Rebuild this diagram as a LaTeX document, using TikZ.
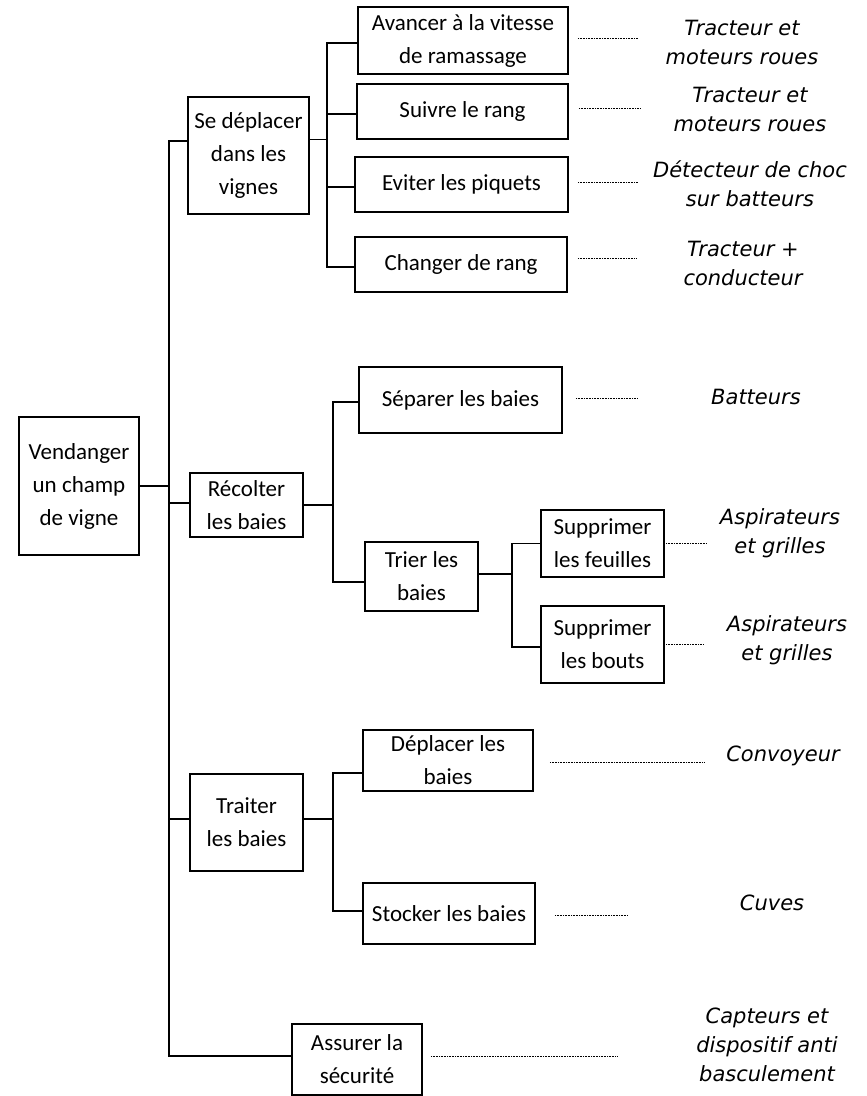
\documentclass[tikz,border=0pt]{standalone}
\usepackage{fontspec}
\setmainfont{Carlito}
\newfontfamily\etiqfont{DejaVu Sans}
\usepackage{tikz}

\begin{document}
\begin{tikzpicture}[x=1pt,y=-1pt,
        boite/.style={draw, line width=1.9pt, align=center, inner sep=2pt,
            font=\fontsize{23}{33}\selectfont},
        etiq/.style={align=center, inner sep=0pt,
            font=\etiqfont\itshape\fontsize{21}{29}\selectfont},
        lien/.style={line width=1.9pt},
        pointille/.style={line width=0.9pt, dash pattern=on 1pt off 0.6pt}]

        \useasboundingbox (0,0) rectangle (867,1096);

        % Fonction principale
        \node[boite, minimum width=120, minimum height=138] (root) at (79,486)
            {Vendanger\\un champ\\de vigne};

        % Se deplacer dans les vignes
        \node[boite, minimum width=121, minimum height=117] (sd) at (248.5,155.5)
            {Se déplacer\\dans les\\vignes};
        \node[boite, minimum width=210, minimum height=67] (av) at (463,40.5)
            {Avancer à la vitesse\\de ramassage};
        \node[boite, minimum width=211, minimum height=55] (su) at (462.5,111.5)
            {Suivre le rang};
        \node[boite, minimum width=213, minimum height=55] (ev) at (461.5,184.5)
            {Eviter les piquets};
        \node[boite, minimum width=212, minimum height=55] (ch) at (461,264.5)
            {Changer de rang};

        % Recolter les baies
        \node[boite, minimum width=113, minimum height=64] (rec) at (246.5,505)
            {Récolter\\les baies};
        \node[boite, minimum width=203, minimum height=66] (sep) at (460.5,400)
            {Séparer les baies};
        \node[boite, minimum width=113, minimum height=69] (tri) at (421.5,576.5)
            {Trier les\\baies};
        \node[boite, minimum width=123, minimum height=67] (sf) at (602.5,543.5)
            {Supprimer\\les feuilles};
        \node[boite, minimum width=123, minimum height=77] (sb) at (602.5,644.5)
            {Supprimer\\les bouts};

        % Traiter les baies
        \node[boite, minimum width=113, minimum height=97] (tra) at (246.5,822.5)
            {Traiter\\les baies};
        \node[boite, minimum width=170, minimum height=61] (dep) at (448,760.5)
            {Déplacer les\\baies};
        \node[boite, minimum width=172, minimum height=61] (sto) at (449,913.5)
            {Stocker les baies};

        % Securite
        \node[boite, minimum width=130, minimum height=71] (ass) at (357,1059.5)
            {Assurer la\\sécurité};

        % Solutions techniques
        \node[etiq] (l-av) at (742,42) {Tracteur et\\moteurs roues};
        \node[etiq] (l-su) at (750,109) {Tracteur et\\moteurs roues};
        \node[etiq] (l-ev) at (750,184) {Détecteur de choc\\sur batteurs};
        \node[etiq] (l-ch) at (743,263) {Tracteur +\\conducteur};
        \node[etiq] (l-sep) at (756,397) {Batteurs};
        \node[etiq] (l-sf) at (780,533) {Aspirateurs\\et grilles};
        \node[etiq] (l-sb) at (787,640) {Aspirateurs\\et grilles};
        \node[etiq] (l-dep) at (783,756) {Convoyeur};
        \node[etiq] (l-sto) at (772,903) {Cuves};
        \node[etiq] (l-ass) at (767,1045) {Capteurs et\\dispositif anti\\basculement};

        % bus verticaux
        \coordinate (b0) at (169,0);
        \coordinate (b1) at (333,0);
        \coordinate (b2) at (512,0);
        \coordinate (b3) at (327,0);

        % liens niveau 1
        \draw[lien] (root.east) -- (root.east -| b0);
        \draw[lien] ([yshift=14.5]sd.west) -- ([yshift=14.5]sd.west -| b0)
            |- ([yshift=3.5]ass.west);
        \draw[lien] ([yshift=2]rec.west) -- ([yshift=2]rec.west -| b0);
        \draw[lien] ([yshift=3.5]tra.west) -- ([yshift=3.5]tra.west -| b0);

        % liens se deplacer
        \draw[lien] ([yshift=16]sd.east) -- ([yshift=16]sd.east -| b3);
        \draw[lien] ([yshift=-2.5]av.west) -- ([yshift=-2.5]av.west -| b3)
            |- ([yshift=-2.5]ch.west);
        \draw[lien] ([yshift=-2.5]su.west) -- ([yshift=-2.5]su.west -| b3);
        \draw[lien] ([yshift=-2.5]ev.west) -- ([yshift=-2.5]ev.west -| b3);

        % liens recolter
        \draw[lien] (rec.east) -- (rec.east -| b1);
        \draw[lien] ([yshift=-2]sep.west) -- ([yshift=-2]sep.west -| b1)
            |- ([yshift=-5.5]tri.west);
        \draw[lien] ([yshift=2.5]tri.east) -- ([yshift=2.5]tri.east -| b2);
        \draw[lien] (sf.west) -- (sf.west -| b2) |- ([yshift=-2.5]sb.west);

        % liens traiter
        \draw[lien] ([yshift=3.5]tra.east) -- ([yshift=3.5]tra.east -| b1);
        \draw[lien] ([yshift=-12.5]dep.west) -- ([yshift=-12.5]dep.west -| b1)
            |- ([yshift=2.5]sto.west);

        % pointilles vers les solutions
        \draw[pointille] ([xshift=9,yshift=2.5]av.east) -- ++(60,0);
        \draw[pointille] ([xshift=10,yshift=3.5]su.east) -- ++(61,0);
        \draw[pointille] ([xshift=9,yshift=2.5]ev.east) -- ++(60,0);
        \draw[pointille] ([xshift=10,yshift=6.5]ch.east) -- ++(59,0);
        \draw[pointille] ([xshift=13,yshift=2]sep.east) -- ++(61,0);
        \draw[pointille] ([xshift=1]sf.east) -- ++(41,0);
        \draw[pointille] ([xshift=1]sb.east) -- ++(38,0);
        \draw[pointille] ([xshift=16,yshift=-1.5]dep.east) -- ++(155,0);
        \draw[pointille] ([xshift=19,yshift=-1.5]sto.east) -- ++(73,0);
        \draw[pointille] ([xshift=8,yshift=3.5]ass.east) -- ++(187,0);

\end{tikzpicture}
\end{document}
